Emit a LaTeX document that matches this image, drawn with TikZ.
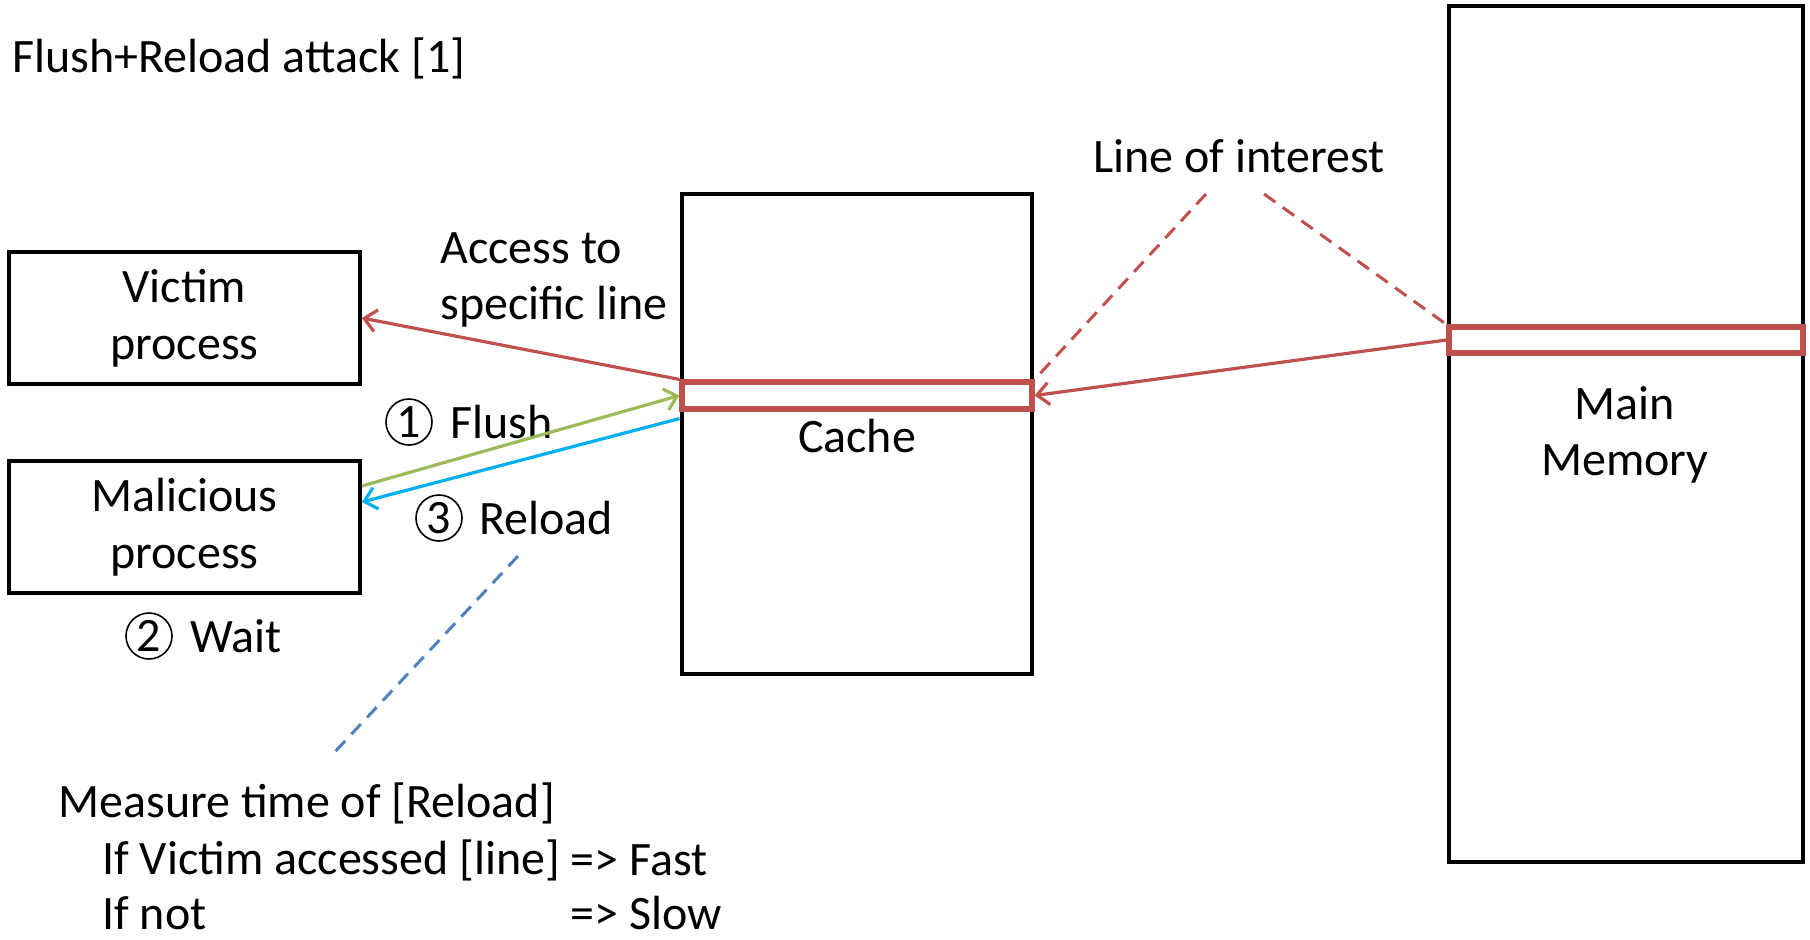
\documentclass[tikz,border=0pt]{standalone}
\usepackage{fontspec}
\setmainfont{Carlito}
\usetikzlibrary{positioning,arrows.meta}
\definecolor{linered}{RGB}{192,80,77}
\definecolor{flushgreen}{RGB}{155,187,89}
\definecolor{reloadcyan}{RGB}{0,176,240}
\definecolor{noteblue}{RGB}{79,129,189}

\begin{document}
\begin{tikzpicture}[x=0.5pt,y=-0.5pt,
    every node/.style={font=\fontsize{24}{28.3}\selectfont},
    procbox/.style={draw,line width=1.9pt,minimum width=175.5pt,
                    minimum height=66pt,align=center,inner sep=0pt},
    unitbox/.style={draw,line width=1.9pt,inner sep=0pt},
    linebox/.style={draw=linered,line width=2.6pt,inner sep=0pt},
    arr/.style={line width=1.6pt,-{Straight Barb[length=6pt,width=11pt]}},
    stepcirc/.style={circle,draw,line width=0.8pt,minimum size=23pt,inner sep=0pt},
    lbl/.style={inner sep=0pt}]
  \useasboundingbox (0,0) rectangle (1810,939);

  \node[lbl,anchor=west] (title) at (12,58) {Flush+Reload attack [1]};

  % processes
  \node[procbox] (victim) at (184.5,318) {Victim\\process};
  \node[procbox] (mal) at (184.5,527) {Malicious\\process};

  % cache and memory
  \node[unitbox,minimum width=175pt,minimum height=240pt] (cache) at (857,434) {};
  \node[linebox,minimum width=175pt,minimum height=13.5pt] (cline) at (857,395.5) {};
  \node[lbl] (cachelbl) at (857,436) {Cache};

  \node[unitbox,minimum width=177pt,minimum height=428pt] (mem) at (1626,434) {};
  \node[linebox,minimum width=177pt,minimum height=13pt] (mline) at (1626,340) {};
  \node[lbl,align=center] (memlbl) at (1625,435) {Main\\Memory};

  % labels
  \node[lbl] (loi) at (1239,156) {Line of interest};
  \node[lbl,align=left,anchor=west] (access) at (440,280) {Access to\\specific line};
  \node[stepcirc] (flushno) at (409,422) {1};
  \node[lbl,anchor=west] (flush) at (450,422) {Flush};
  \node[stepcirc] (reloadno) at (439,518) {3};
  \node[lbl,anchor=west] (reload) at (479,518) {Reload};
  \node[stepcirc] (waitno) at (149,636) {2};
  \node[lbl,anchor=west] (wait) at (190,636) {Wait};

  \node[lbl,anchor=west] (measure) at (58,803) {Measure time of [Reload]};
  \node[lbl,anchor=west] (ifvic) at (102,860) {If Victim accessed [line]};
  \node[lbl,right=5pt of ifvic] (fast) {=> Fast};
  \node[lbl,anchor=west] (ifnot) at (102,913) {If not};
  \node[lbl,anchor=west] (slow) at (fast.west |- ifnot) {=> Slow};

  \coordinate (loia) at (1206,194);
  \coordinate (loib) at (1264,194);
  \coordinate (notea) at (518,556);
  \coordinate (noteb) at (331,756);

  % connectors
  \draw[linered,line width=1.5pt,dash pattern=on 7pt off 4.5pt] (loia) -- (cline.north east);
  \draw[linered,line width=1.5pt,dash pattern=on 7pt off 4.5pt] (loib) -- (mline.north west);
  \draw[arr,linered] (mline.west) -- (cline.east);
  \draw[arr,linered] (cline.north west) -- (victim.east);
  \draw[arr,flushgreen] ([yshift=20.5pt]mal.east) -- (cline.west);
  \draw[arr,reloadcyan] ([yshift=-3.5pt]cline.south west) -- ([yshift=12.5pt]mal.east);
  \draw[noteblue,line width=1.5pt,dash pattern=on 7pt off 4.5pt] (notea) -- (noteb);
\end{tikzpicture}
\end{document}
